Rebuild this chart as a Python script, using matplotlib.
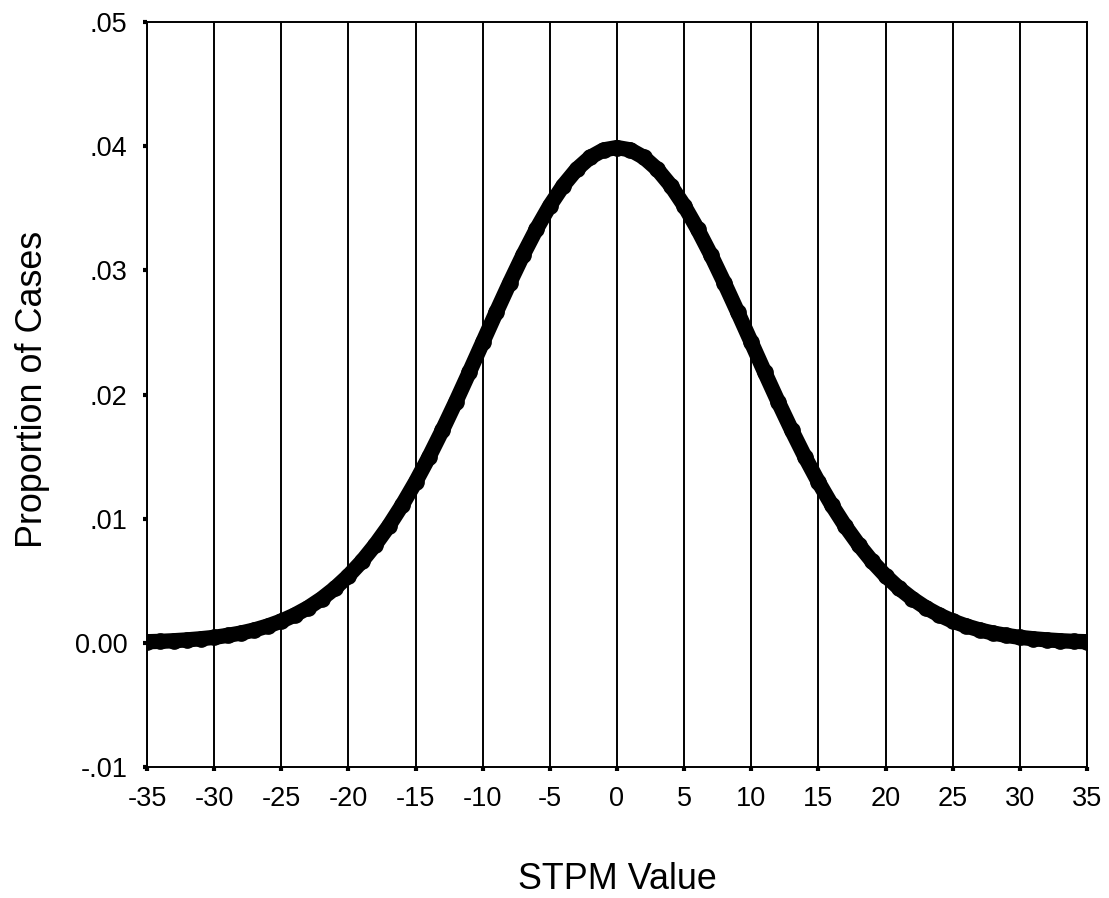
import numpy as np
import matplotlib.pyplot as plt

# STPM value vs proportion of cases
stpm = list(range(-35, 36))
right_half = [0.03989, 0.03970, 0.03910, 0.03814, 0.03683, 0.03521, 0.03332, 0.03123,
              0.02897, 0.02661, 0.02420, 0.02179, 0.01942, 0.01714, 0.01497, 0.01295,
              0.01109, 0.00940, 0.00790, 0.00656, 0.00540, 0.00440, 0.00355, 0.00283,
              0.00224, 0.00175, 0.00136, 0.00104, 0.00079, 0.00060, 0.00044, 0.00033,
              0.00024, 0.00017, 0.00012, 0.00009]
proportion = right_half[:0:-1] + right_half

x_ticks = list(range(-35, 36, 5))
y_ticks = [-0.01, 0.0, 0.01, 0.02, 0.03, 0.04, 0.05]
y_labels = ['-.01', '0.00', '.01', '.02', '.03', '.04', '.05']

plt.rcParams['font.family'] = ['Liberation Sans', 'DejaVu Sans']

fig = plt.figure(figsize=(11.09, 8.98), dpi=100)
ax = fig.add_axes([0.13255, 0.14588, 0.98016 - 0.13255, 0.9755 - 0.14588])

ax.plot(stpm, proportion, color='black', lw=11, marker='o', ms=11,
        solid_capstyle='round', solid_joinstyle='round', zorder=3)

ax.set_xlim(-35, 35)
ax.set_ylim(-0.01, 0.05)
ax.set_xticks(x_ticks)
ax.set_xticklabels([str(t) for t in x_ticks])
ax.set_yticks(y_ticks)
ax.set_yticklabels(y_labels)

ax.grid(axis='x', color='black', lw=1.4)
for s in ax.spines.values():
    s.set_linewidth(1.4)
    s.set_color('black')

ax.tick_params(direction='out', length=3, width=3, pad=11, labelsize=19.5,
               colors='black')

ax.set_xlabel('STPM Value', fontsize=25.8)
ax.set_ylabel('Proportion of Cases', fontsize=25.8)
ax.xaxis.set_label_coords(0.5, -0.127)
ax.yaxis.set_label_coords(-0.103, 0.507)

fig.savefig('out.png', dpi=100)
